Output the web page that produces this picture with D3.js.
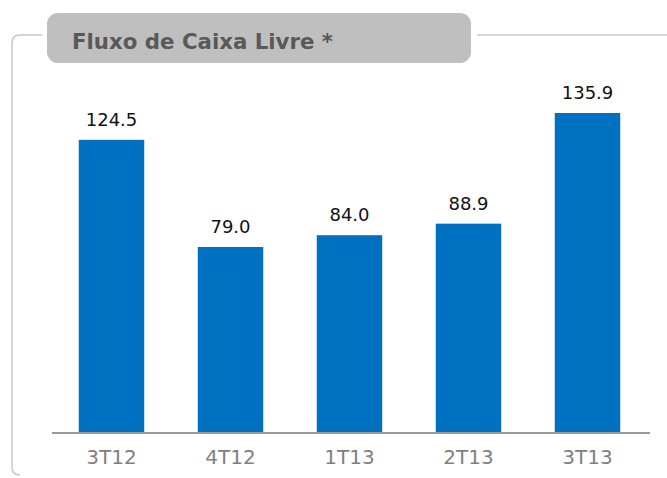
<!DOCTYPE html>
<html>
<head>
<meta charset="utf-8">
<script src="https://cdn.jsdelivr.net/npm/d3@7"></script>
<style>
  body { margin: 0; background: #fff; }
  svg { display: block; }
</style>
</head>
<body>
<svg width="667" height="478"></svg>
<script>
const TITLE = "Fluxo de Caixa Livre *";
const QUARTERS = ["3T12", "4T12", "1T13", "2T13", "3T13"];
const FCF_VALUES = [124.5, 79.0, 84.0, 88.9, 135.9];
const VALUE_LABELS = ["124.5", "79.0", "84.0", "88.9", "135.9"];

const data = QUARTERS.map((q, i) => ({ quarter: q, value: FCF_VALUES[i], label: VALUE_LABELS[i] }));

const svg = d3.select('svg');

// outer frame (left + top, broken by the title box)
svg.append('path')
    .attr('d', 'M42,35 L20,35 Q12,35 12,43 L12,467 Q12,475 20,475')
    .attr('fill', 'none')
    .attr('stroke', '#c8c8c8')
    .attr('stroke-width', 1.5);
svg.append('line')
    .attr('x1', 477).attr('x2', 667)
    .attr('y1', 35).attr('y2', 35)
    .attr('stroke', '#c8c8c8')
    .attr('stroke-width', 1.5);

// title box
svg.append('rect')
    .attr('x', 47).attr('y', 13)
    .attr('width', 424).attr('height', 50)
    .attr('rx', 11)
    .attr('fill', '#bfbfbf');
svg.append('text')
    .attr('x', 72).attr('y', 49)
    .attr('font-family', 'DejaVu Sans, Verdana, sans-serif')
    .attr('font-weight', 'bold')
    .attr('font-size', 21.3)
    .attr('fill', '#595959')
    .text(TITLE);

const xScale = d3.scaleBand()
    .domain(QUARTERS)
    .range([52, 647])
    .paddingInner(0.45)
    .paddingOuter(0.225);

const yScale = d3.scaleLinear()
    .domain([0, 135.9])
    .range([433, 113]);

svg.selectAll('.bar')
    .data(data)
    .enter()
    .append('rect')
    .classed('bar', true)
    .attr('x', d => xScale(d.quarter))
    .attr('y', d => yScale(d.value))
    .attr('width', xScale.bandwidth())
    .attr('height', d => yScale(0) - yScale(d.value))
    .attr('fill', '#0070c0');

svg.selectAll('.value-label')
    .data(data)
    .enter()
    .append('text')
    .classed('value-label', true)
    .attr('x', d => xScale(d.quarter) + xScale.bandwidth() / 2)
    .attr('y', d => yScale(d.value) - 14)
    .attr('text-anchor', 'middle')
    .attr('font-family', 'DejaVu Sans, Verdana, sans-serif')
    .attr('font-size', 18)
    .attr('fill', '#111')
    .text(d => d.label);

// category axis
const xAxis = svg.append('g')
    .attr('transform', 'translate(0,433)')
    .call(d3.axisBottom(xScale).tickSize(0).tickPadding(12));
xAxis.select('.domain')
    .attr('d', 'M52,0H650')
    .attr('stroke', '#999')
    .attr('stroke-width', 2);
xAxis.selectAll('text')
    .attr('font-family', 'DejaVu Sans, Verdana, sans-serif')
    .attr('font-size', 20)
    .attr('fill', '#808080')
    .attr('dy', '0.95em');
</script>
</body>
</html>
